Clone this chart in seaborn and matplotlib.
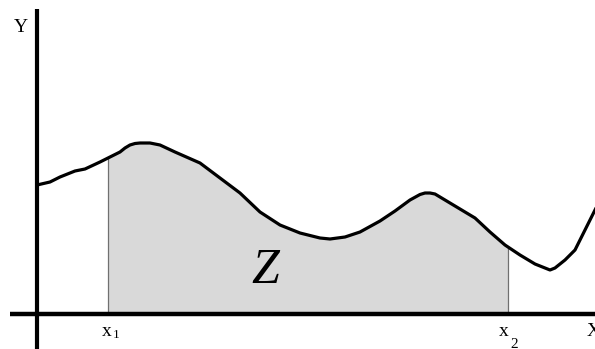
import numpy as np
import pandas as pd
import matplotlib
matplotlib.use("Agg")
import matplotlib.pyplot as plt
import seaborn as sns

# curve samples (origin at axes intersection)
curve_x = [0, 13, 23, 38, 48, 63, 73, 83, 88, 93, 98, 103, 113, 118, 123, 138, 163, 183, 203,
           223, 243, 263, 283, 293, 308, 323, 343, 358, 373, 383, 388, 393, 398, 403, 423,
           438, 453, 468, 483, 498, 508, 513, 518, 528, 538, 548, 558, 563]
curve_y = [129, 132, 137, 143, 145, 152, 157, 162, 166, 169, 170.5, 171, 171, 170, 169, 162,
           151, 136, 121, 102, 89, 81, 76, 75, 77, 82, 93, 103, 114, 119.5, 121, 121, 120,
           117, 105, 96, 82, 69, 59, 50, 46, 44, 46, 54, 64, 84, 104, 114]
x1, x2 = 71, 471
labels = {"y": "Y", "x": "X", "area": "Z", "a": "x", "b": "x", "sa": "1", "sb": "2"}

sns.set_theme(style="white")
plt.rcParams["font.family"] = ["Liberation Serif", "DejaVu Serif"]
plt.rcParams["text.color"] = "black"

fig = plt.figure(figsize=(5.95, 3.49), dpi=100)
ax = fig.add_axes([0, 0, 1, 1])
ax.set_xlim(-37, 558)
ax.set_ylim(-35, 314)
ax.axis("off")

cx = np.array(curve_x, float)
cy = np.array(curve_y, float)
inside = (cx > x1) & (cx < x2)
fx = np.concatenate([[x1], cx[inside], [x2]])
fy = np.concatenate([[np.interp(x1, cx, cy)], cy[inside], [np.interp(x2, cx, cy)]])
ax.fill_between(fx, 0, fy, color="#d9d9d9", lw=0, zorder=1)
ax.plot([x1, x1], [0, fy[0]], color="#707070", lw=0.9, zorder=2)
ax.plot([x2, x2], [0, fy[-1]], color="#707070", lw=0.9, zorder=2)

df = pd.DataFrame({"x": cx, "y": cy})
sns.lineplot(data=df, x="x", y="y", ax=ax, color="black", lw=2.3, sort=False,
             estimator=None, zorder=4)
ax.lines[-1].set_solid_joinstyle("round")
ax.lines[-1].set_solid_capstyle("round")

# axes
ax.plot([0, 0], [-40, 305], color="black", lw=3.0, zorder=5, solid_capstyle="butt")
ax.plot([-27, 560], [0, 0], color="black", lw=3.2, zorder=5, solid_capstyle="butt")

ax.text(-16, 286, labels["y"], fontsize=14, ha="center", va="center")
ax.text(550, -18, labels["x"], fontsize=14, ha="left", va="center")
ax.text(x1 - 1, -18, labels["a"], fontsize=14, ha="center", va="center")
ax.text(x1 + 5, -21, labels["sa"], fontsize=9.5, ha="left", va="center")
ax.text(x2 - 4, -18, labels["b"], fontsize=14, ha="center", va="center")
ax.text(x2 + 2, -30, labels["sb"], fontsize=11, ha="left", va="center")
ax.text(228, 43, labels["area"], fontsize=36, style="italic", ha="center", va="center")

fig.savefig("out.png", dpi=100)
